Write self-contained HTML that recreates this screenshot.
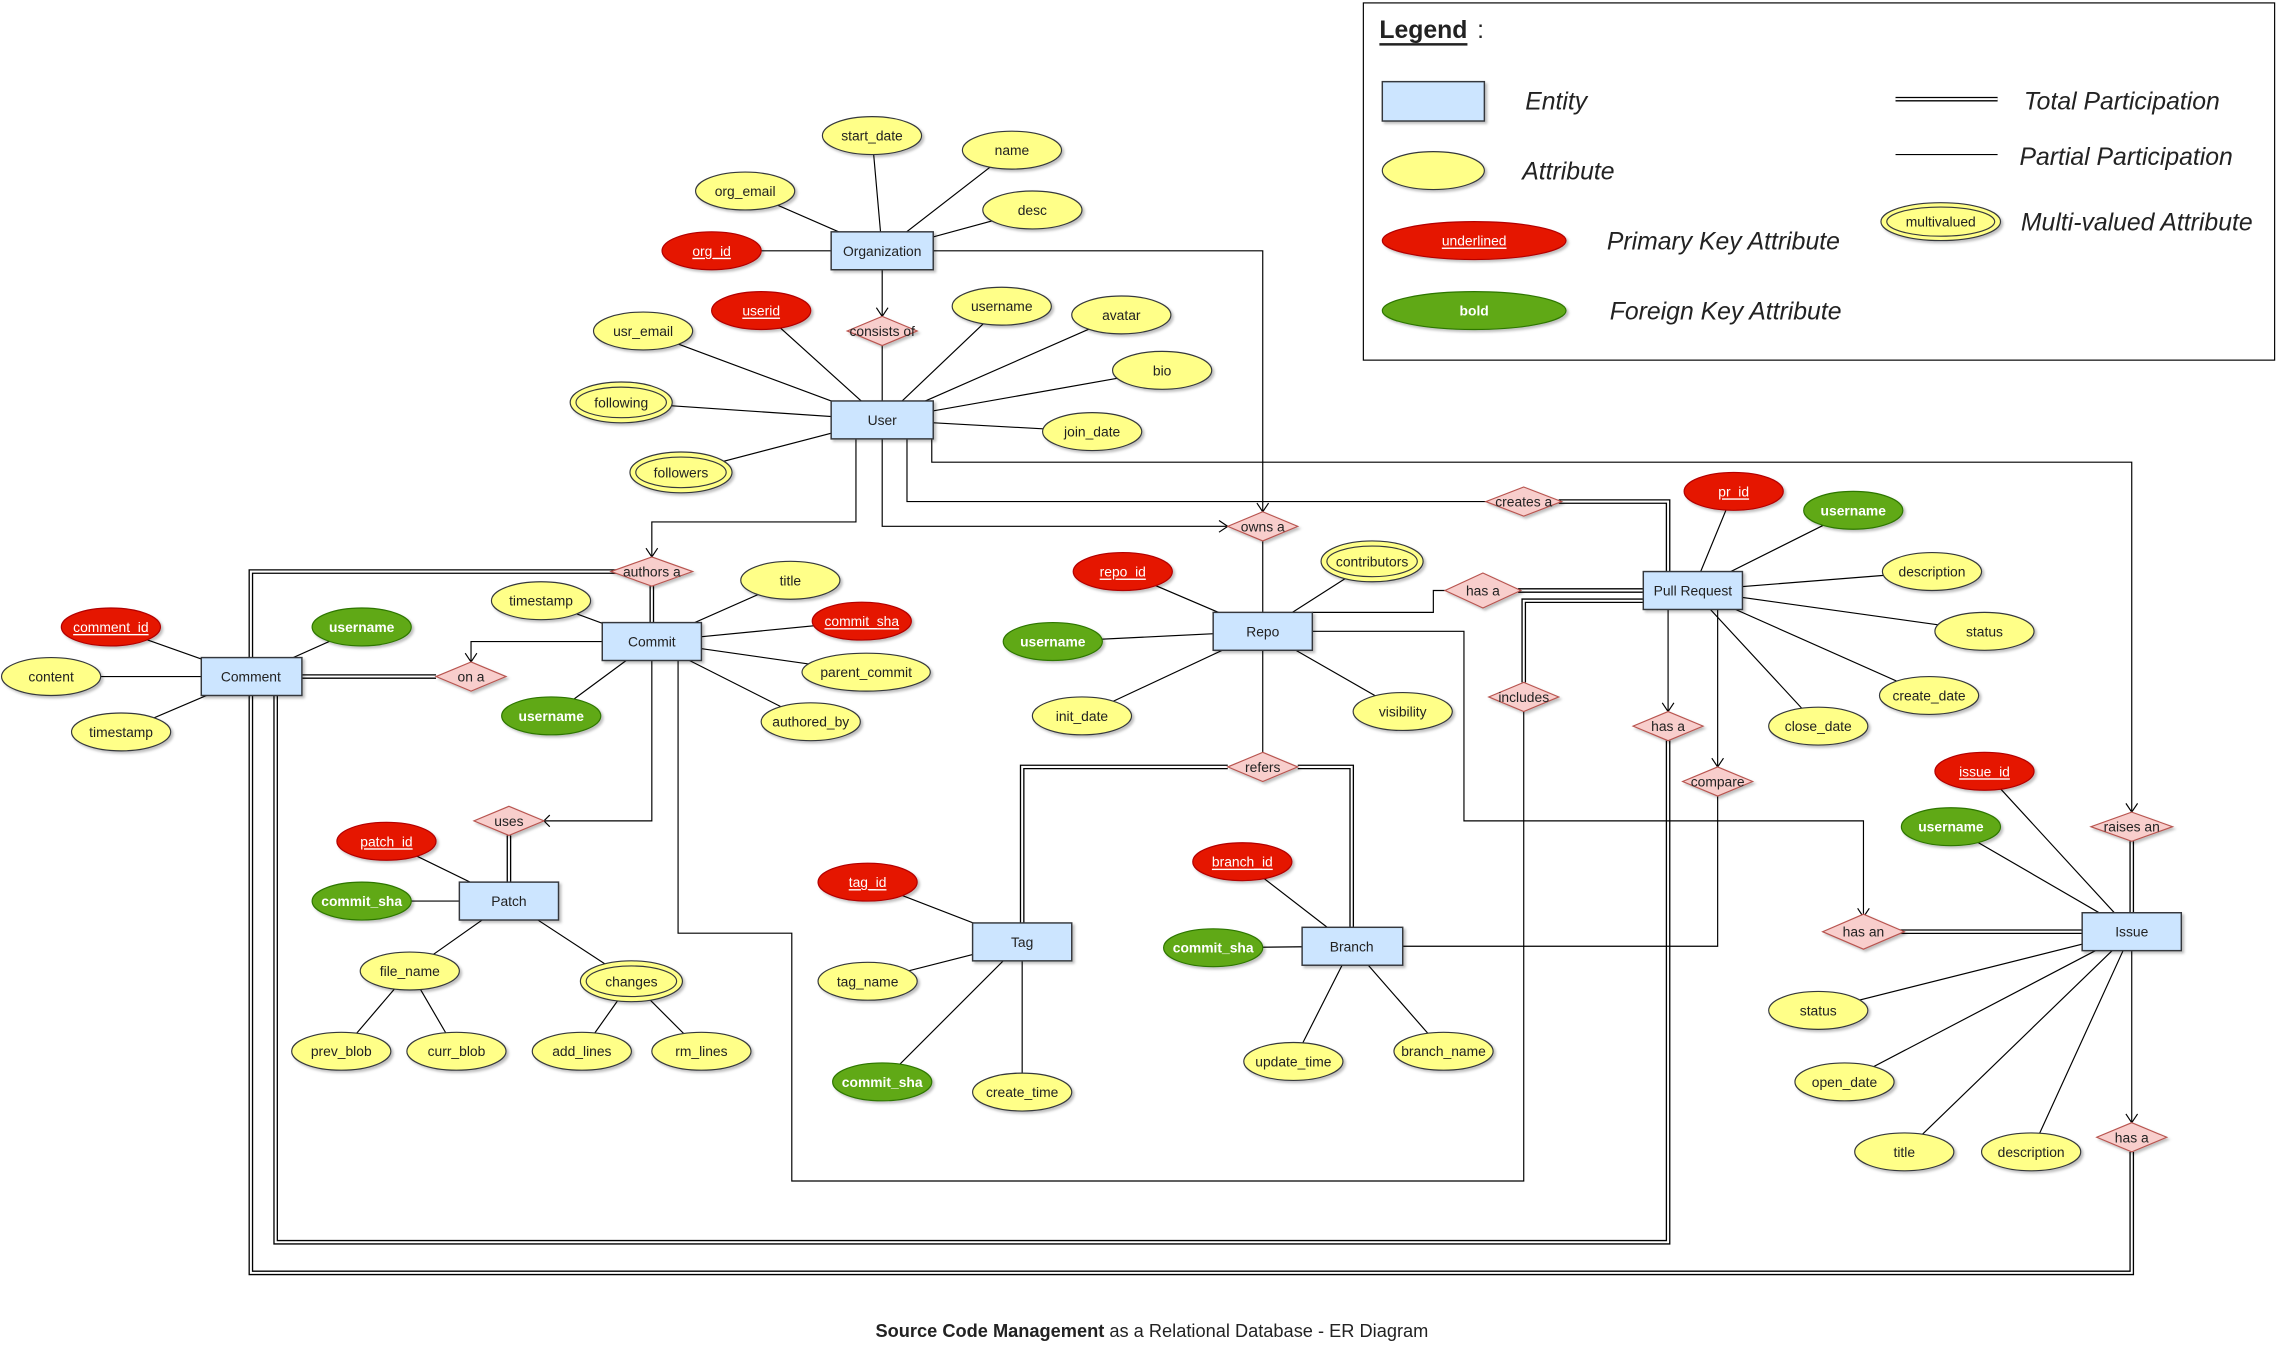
<!DOCTYPE html>
<html><head><meta charset="utf-8"><style>
html,body{margin:0;padding:0;background:#fff;}
svg{display:block;}
text{font-family:"Liberation Sans","DejaVu Sans",sans-serif;font-size:9.5px;fill:#222;text-anchor:middle;dominant-baseline:central;}
.e{fill:#cce5ff;stroke:#36393d;stroke-width:1;filter:url(#sh);}
.a{fill:#ffff88;stroke:#36393d;stroke-width:.8;filter:url(#sh);}
.r{fill:#e51400;stroke:#b20000;stroke-width:.8;filter:url(#sh);}
.g{fill:#60a917;stroke:#2d7600;stroke-width:.8;filter:url(#sh);}
.d{fill:#f8cecc;stroke:#b85450;stroke-width:.8;filter:url(#sh);}
.rt{fill:#fff;text-decoration:underline;}
.gt{fill:#fff;font-weight:bold;}
.l{fill:none;stroke:#000;stroke-width:.8;}
.dl{fill:none;stroke:#000;stroke-width:3.2;}
.dw{fill:none;stroke:#fff;stroke-width:1.4;}
.lg{font-style:italic;font-size:17px;text-anchor:start;}
</style></head><body>
<svg width="2282" height="1357" viewBox="0 0 1565 930.7" xmlns="http://www.w3.org/2000/svg">
<defs><filter id="sh" x="-20%" y="-20%" width="150%" height="160%"><feDropShadow dx="1.5" dy="1.5" stdDeviation="1" flood-color="#000" flood-opacity="0.25"/></filter></defs>

<!-- attribute lines -->
<g class="l">
<path d="M598,93L605,172M694,103L605,172M511,131L605,172M708,144L605,172M488,172L605,172"/>
<path d="M522,213L605,288M687,210L605,288M769,216L605,288M441,227L605,288M797,254L605,288M426,276L605,288M749,296L605,288M467,324L605,288"/>
<path d="M371,412L447,440M542,398L447,440M591,426L447,440M594,461L447,440M556,495L447,440M378,491L447,440"/>
<path d="M76,430L172,464M248,430L172,464M35,464L172,464M83,502L172,464"/>
<path d="M770,392L866,433M941,385L866,433M722,440L866,433M742,491L866,433M962,488L866,433"/>
<path d="M1189,337L1161,405M1271,350L1161,405M1325,392L1161,405M1361,433L1161,405M1323,477L1161,405M1247,498L1161,405"/>
<path d="M265,577L349,618M248,618L349,618M281,666L349,618M433,673L349,618M234,721L281,666M313,721L281,666M399,721L433,673M481,721L433,673"/>
<path d="M595,605L701,646M595,673L701,646M605,742L701,646M701,749L701,646"/>
<path d="M852,591L927,649M832,650L927,649M887,728L927,649M990,721L927,649"/>
<path d="M1361,529L1462,639M1338,567L1462,639M1247,693L1462,639M1265,742L1462,639M1306,790L1462,639M1393,790L1462,639"/>
</g>

<!-- double lines -->
<g>
<path class="dl" d="M423,392L172,392L172,873L1462,873L1462,790"/>
<path class="dw" d="M423,392L172,392L172,873L1462,873L1462,790"/>
<path class="dl" d="M189,477L189,852L1144,852L1144,508"/>
<path class="dw" d="M189,477L189,852L1144,852L1144,508"/>
<path class="dl" d="M447,402L447,427M299,464L207,464M349,573L349,605M1041,405L1127,405M1302,639L1428,639M1462,577L1462,626M842,526L701,526L701,633M890,526L927,526L927,636M1069,344L1144,344L1144,392M1045,468L1045,412L1127,412"/>
<path class="dw" d="M447,402L447,427M299,464L207,464M349,573L349,605M1041,405L1127,405M1302,639L1428,639M1462,577L1462,626M842,526L701,526L701,633M890,526L927,526L927,636M1069,344L1144,344L1144,392M1045,468L1045,412L1127,412"/>
</g>

<!-- single connectors -->
<g class="l">
<path d="M640,172L866,172L866,351"/>
<path d="M605,185L605,217M605,237L605,275"/>
<path d="M587,301L587,358L447,358L447,382"/>
<path d="M605,301L605,361L842,361"/>
<path d="M622,301L622,344L1021,344"/>
<path d="M639,301L639,317L1462,317L1462,557"/>
<path d="M413,440L323,440L323,454"/>
<path d="M447,453L447,563L373,563"/>
<path d="M465,453L465,640L543,640L543,810L1045,810L1045,488"/>
<path d="M866,371L866,420M866,446L866,516"/>
<path d="M900,420L983,420L983,405L993,405"/>
<path d="M900,433L1004,433L1004,563L1278,563L1278,629"/>
<path d="M1144,418L1144,488"/>
<path d="M1178,418L1178,526M1178,546L1178,649L962,649"/>
<path d="M1462,652L1462,770"/>
<path d="M443,376L447,382L451,376M862,345L866,351L870,345M836,357L842,361L836,365M319,448L323,454L327,448M377,559L373,563L377,567M1140,482L1144,488L1148,482M1174,520L1178,526L1182,520M1458,551L1462,557L1466,551M1274,623L1278,629L1282,623M1458,764L1462,770L1466,764M601,211L605,217L609,211"/>
</g>

<!-- entities -->
<g>
<rect class="e" x="570" y="159" width="70" height="26"/><text x="605" y="172">Organization</text>
<rect class="e" x="570" y="275" width="70" height="26"/><text x="605" y="288">User</text>
<rect class="e" x="413" y="427" width="68" height="26"/><text x="447" y="440">Commit</text>
<rect class="e" x="138" y="451" width="69" height="26"/><text x="172" y="464">Comment</text>
<rect class="e" x="832" y="420" width="68" height="26"/><text x="866" y="433">Repo</text>
<rect class="e" x="1127" y="392" width="68" height="26"/><text x="1161" y="405">Pull Request</text>
<rect class="e" x="315" y="605" width="68" height="26"/><text x="349" y="618">Patch</text>
<rect class="e" x="667" y="633" width="68" height="26"/><text x="701" y="646">Tag</text>
<rect class="e" x="893" y="636" width="69" height="26"/><text x="927" y="649">Branch</text>
<rect class="e" x="1428" y="626" width="68" height="26"/><text x="1462" y="639">Issue</text>
</g>

<!-- relationships -->
<g>
<polygon class="d" points="605,217 629,227 605,237 581,227"/><text x="605" y="227">consists of</text>
<polygon class="d" points="447,382 475,392 447,402 419,392"/><text x="447" y="392">authors a</text>
<polygon class="d" points="323,454 347,464 323,474 299,464"/><text x="323" y="464">on a</text>
<polygon class="d" points="866,351 890,361 866,371 842,361"/><text x="866" y="361">owns a</text>
<polygon class="d" points="1045,334 1071,344 1045,354 1019,344"/><text x="1045" y="344">creates a</text>
<polygon class="d" points="1017,393 1043,405 1017,417 991,405"/><text x="1017" y="405">has a</text>
<polygon class="d" points="1045,468 1069,478 1045,488 1021,478"/><text x="1045" y="478">includes</text>
<polygon class="d" points="1144,488 1168,498 1144,508 1120,498"/><text x="1144" y="498">has a</text>
<polygon class="d" points="1178,526 1202,536 1178,546 1154,536"/><text x="1178" y="536">compare</text>
<polygon class="d" points="866,516 890,526 866,536 842,526"/><text x="866" y="526">refers</text>
<polygon class="d" points="349,553 373,563 349,573 325,563"/><text x="349" y="563">uses</text>
<polygon class="d" points="1462,557 1490,567 1462,577 1434,567"/><text x="1462" y="567">raises an</text>
<polygon class="d" points="1278,627 1306,639 1278,651 1250,639"/><text x="1278" y="639">has an</text>
<polygon class="d" points="1462,770 1486,780 1462,790 1438,780"/><text x="1462" y="780">has a</text>
</g>

<!-- attributes -->
<g>
<ellipse class="a" cx="598" cy="93" rx="34" ry="13"/><text x="598" y="93">start_date</text>
<ellipse class="a" cx="694" cy="103" rx="34" ry="13"/><text x="694" y="103">name</text>
<ellipse class="a" cx="511" cy="131" rx="34" ry="13"/><text x="511" y="131">org_email</text>
<ellipse class="a" cx="708" cy="144" rx="34" ry="13"/><text x="708" y="144">desc</text>
<ellipse class="r" cx="488" cy="172" rx="34" ry="13"/><text class="rt" x="488" y="172">org_id</text>

<ellipse class="r" cx="522" cy="213" rx="34" ry="13"/><text class="rt" x="522" y="213">userid</text>
<ellipse class="a" cx="687" cy="210" rx="34" ry="13"/><text x="687" y="210">username</text>
<ellipse class="a" cx="769" cy="216" rx="34" ry="13"/><text x="769" y="216">avatar</text>
<ellipse class="a" cx="441" cy="227" rx="34" ry="13"/><text x="441" y="227">usr_email</text>
<ellipse class="a" cx="797" cy="254" rx="34" ry="13"/><text x="797" y="254">bio</text>
<ellipse class="a" cx="426" cy="276" rx="35" ry="14"/><ellipse cx="426" cy="276" rx="31" ry="10.5" fill="none" stroke="#36393d" stroke-width=".8"/><text x="426" y="276">following</text>
<ellipse class="a" cx="749" cy="296" rx="34" ry="13"/><text x="749" y="296">join_date</text>
<ellipse class="a" cx="467" cy="324" rx="35" ry="14"/><ellipse cx="467" cy="324" rx="31" ry="10.5" fill="none" stroke="#36393d" stroke-width=".8"/><text x="467" y="324">followers</text>

<ellipse class="a" cx="371" cy="412" rx="34" ry="13"/><text x="371" y="412">timestamp</text>
<ellipse class="a" cx="542" cy="398" rx="34" ry="13"/><text x="542" y="398">title</text>
<ellipse class="r" cx="591" cy="426" rx="34" ry="13"/><text class="rt" x="591" y="426">commit_sha</text>
<ellipse class="a" cx="594" cy="461" rx="44" ry="13"/><text x="594" y="461">parent_commit</text>
<ellipse class="a" cx="556" cy="495" rx="34" ry="13"/><text x="556" y="495">authored_by</text>
<ellipse class="g" cx="378" cy="491" rx="34" ry="13"/><text class="gt" x="378" y="491">username</text>

<ellipse class="r" cx="76" cy="430" rx="34" ry="13"/><text class="rt" x="76" y="430">comment_id</text>
<ellipse class="g" cx="248" cy="430" rx="34" ry="13"/><text class="gt" x="248" y="430">username</text>
<ellipse class="a" cx="35" cy="464" rx="34" ry="13"/><text x="35" y="464">content</text>
<ellipse class="a" cx="83" cy="502" rx="34" ry="13"/><text x="83" y="502">timestamp</text>

<ellipse class="r" cx="770" cy="392" rx="34" ry="13"/><text class="rt" x="770" y="392">repo_id</text>
<ellipse class="a" cx="941" cy="385" rx="35" ry="14"/><ellipse cx="941" cy="385" rx="31" ry="10.5" fill="none" stroke="#36393d" stroke-width=".8"/><text x="941" y="385">contributors</text>
<ellipse class="g" cx="722" cy="440" rx="34" ry="13"/><text class="gt" x="722" y="440">username</text>
<ellipse class="a" cx="742" cy="491" rx="34" ry="13"/><text x="742" y="491">init_date</text>
<ellipse class="a" cx="962" cy="488" rx="34" ry="13"/><text x="962" y="488">visibility</text>

<ellipse class="r" cx="1189" cy="337" rx="34" ry="13"/><text class="rt" x="1189" y="337">pr_id</text>
<ellipse class="g" cx="1271" cy="350" rx="34" ry="13"/><text class="gt" x="1271" y="350">username</text>
<ellipse class="a" cx="1325" cy="392" rx="34" ry="13"/><text x="1325" y="392">description</text>
<ellipse class="a" cx="1361" cy="433" rx="34" ry="13"/><text x="1361" y="433">status</text>
<ellipse class="a" cx="1323" cy="477" rx="34" ry="13"/><text x="1323" y="477">create_date</text>
<ellipse class="a" cx="1247" cy="498" rx="34" ry="13"/><text x="1247" y="498">close_date</text>

<ellipse class="r" cx="265" cy="577" rx="34" ry="13"/><text class="rt" x="265" y="577">patch_id</text>
<ellipse class="g" cx="248" cy="618" rx="34" ry="13"/><text class="gt" x="248" y="618">commit_sha</text>
<ellipse class="a" cx="281" cy="666" rx="34" ry="13"/><text x="281" y="666">file_name</text>
<ellipse class="a" cx="433" cy="673" rx="35" ry="14"/><ellipse cx="433" cy="673" rx="31" ry="10.5" fill="none" stroke="#36393d" stroke-width=".8"/><text x="433" y="673">changes</text>
<ellipse class="a" cx="234" cy="721" rx="34" ry="13"/><text x="234" y="721">prev_blob</text>
<ellipse class="a" cx="313" cy="721" rx="34" ry="13"/><text x="313" y="721">curr_blob</text>
<ellipse class="a" cx="399" cy="721" rx="34" ry="13"/><text x="399" y="721">add_lines</text>
<ellipse class="a" cx="481" cy="721" rx="34" ry="13"/><text x="481" y="721">rm_lines</text>

<ellipse class="r" cx="595" cy="605" rx="34" ry="13"/><text class="rt" x="595" y="605">tag_id</text>
<ellipse class="a" cx="595" cy="673" rx="34" ry="13"/><text x="595" y="673">tag_name</text>
<ellipse class="g" cx="605" cy="742" rx="34" ry="13"/><text class="gt" x="605" y="742">commit_sha</text>
<ellipse class="a" cx="701" cy="749" rx="34" ry="13"/><text x="701" y="749">create_time</text>

<ellipse class="r" cx="852" cy="591" rx="34" ry="13"/><text class="rt" x="852" y="591">branch_id</text>
<ellipse class="g" cx="832" cy="650" rx="34" ry="13"/><text class="gt" x="832" y="650">commit_sha</text>
<ellipse class="a" cx="887" cy="728" rx="34" ry="13"/><text x="887" y="728">update_time</text>
<ellipse class="a" cx="990" cy="721" rx="34" ry="13"/><text x="990" y="721">branch_name</text>

<ellipse class="r" cx="1361" cy="529" rx="34" ry="13"/><text class="rt" x="1361" y="529">issue_id</text>
<ellipse class="g" cx="1338" cy="567" rx="34" ry="13"/><text class="gt" x="1338" y="567">username</text>
<ellipse class="a" cx="1247" cy="693" rx="34" ry="13"/><text x="1247" y="693">status</text>
<ellipse class="a" cx="1265" cy="742" rx="34" ry="13"/><text x="1265" y="742">open_date</text>
<ellipse class="a" cx="1306" cy="790" rx="34" ry="13"/><text x="1306" y="790">title</text>
<ellipse class="a" cx="1393" cy="790" rx="34" ry="13"/><text x="1393" y="790">description</text>
</g>

<!-- legend -->
<g>
<rect x="935" y="2" width="625" height="245" fill="#fff" stroke="#000" stroke-width=".8"/>
<text x="946" y="21" style="text-anchor:start;font-size:17px;font-weight:bold;text-decoration:underline">Legend</text><text x="1013" y="21" style="text-anchor:start;font-size:17px">:</text>
<rect class="e" x="948" y="56" width="70" height="27"/>
<text class="lg" x="1046" y="70">Entity</text>
<ellipse class="a" cx="983" cy="117" rx="35" ry="13"/>
<text class="lg" x="1044" y="118">Attribute</text>
<ellipse class="r" cx="1011" cy="165" rx="63" ry="13"/><text class="rt" x="1011" y="165">underlined</text>
<text class="lg" x="1102" y="166">Primary Key Attribute</text>
<ellipse class="g" cx="1011" cy="213" rx="63" ry="13"/><text class="gt" x="1011" y="213">bold</text>
<text class="lg" x="1104" y="214">Foreign Key Attribute</text>
<path class="dl" d="M1300,68L1370,68"/><path class="dw" d="M1300,68L1370,68"/>
<text class="lg" x="1388" y="70">Total Participation</text>
<path class="l" d="M1300,106L1370,106"/>
<text class="lg" x="1385" y="108">Partial Participation</text>
<ellipse class="a" cx="1331" cy="152" rx="41" ry="13"/><ellipse cx="1331" cy="152" rx="37" ry="10" fill="none" stroke="#36393d" stroke-width=".8"/><text x="1331" y="152">multivalued</text>
<text class="lg" x="1386" y="153">Multi-valued Attribute</text>
</g>

<text x="790" y="913" style="font-size:12.5px"><tspan font-weight="bold">Source Code Management</tspan> as a Relational Database - ER Diagram</text>
</svg>
</body></html>
